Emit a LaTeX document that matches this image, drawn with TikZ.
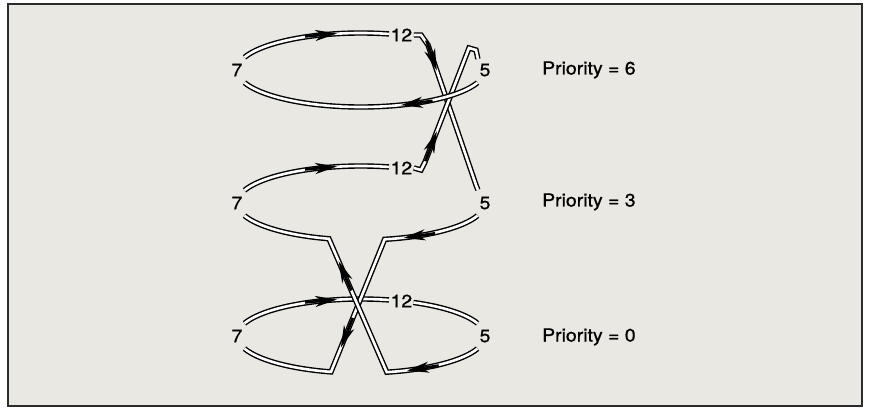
\documentclass[tikz,border=0pt]{standalone}
\usepackage{fontspec}
\setmainfont{TeX Gyre Heros}[FakeStretch=1.08,FakeBold=0.8]
\usetikzlibrary{decorations.markings}
\definecolor{paper}{HTML}{E9E8E3}
\definecolor{frameink}{HTML}{2B2B2B}

\tikzset{
  wire/.style={draw=black,double=white,double distance=2.6pt,line width=1.4pt,line join=miter},
  arrowat/.style={postaction={decorate,decoration={markings,mark=at position #1 with {%
    \fill[black] (12,0) -- (-10,5.6) -- (-5,1.4) -- (-20,1.4) -- (-20,-1.4) -- (-5,-1.4) -- (-10,-5.6) -- cycle;}}}},
  tag/.style={inner sep=1.5pt,font=\fontsize{18}{20}\selectfont},
  prio/.style={anchor=base west,inner sep=0pt,font=\fontsize{18}{20}\selectfont}
}

\begin{document}
\begin{tikzpicture}[x=1pt,y=1pt]
  \useasboundingbox (0,0) rectangle (870,410);
  \draw[frameink,line width=2pt,fill=paper] (8,4) rectangle (862,406);

  % ring centres
  \coordinate (tc) at (361,340);
  \coordinate (mc) at (361,207);
  \coordinate (bc) at (361,74);

  % task labels
  \node[tag] (t7)  at ([shift={(180:124 and 37)}]tc) {7};
  \node[tag] (t12) at ([shift={(71:124 and 37)}]tc) {12};
  \node[tag] (t5)  at ([shift={(0:124 and 37)}]tc) {5};
  \node[tag] (m7)  at ([shift={(180:124 and 37)}]mc) {7};
  \node[tag] (m12) at ([shift={(71:124 and 37)}]mc) {12};
  \node[tag] (m5)  at ([shift={(0:124 and 37)}]mc) {5};
  \node[tag] (b7)  at ([shift={(180:124 and 37)}]bc) {7};
  \node[tag] (b12) at ([shift={(71:124 and 37)}]bc) {12};
  \node[tag] (b5)  at ([shift={(0:124 and 37)}]bc) {5};

  \node[prio] (p6) at (542,335.5) {Priority = 6};
  \node[prio] (p3) at (542,203.5) {Priority = 3};
  \node[prio] (p0) at (542,68.5) {Priority = 0};

  % priority 0
  \draw[wire,arrowat=0.57] ([shift={(160:124 and 37)}]bc) arc[start angle=160,end angle=77,x radius=124,y radius=37];
  \draw[wire] ([shift={(65:124 and 37)}]bc) arc[start angle=65,end angle=20,x radius=124,y radius=37];

  % priority 3, links down to priority 0
  \draw[wire,arrowat=0.57] ([shift={(160:124 and 37)}]mc) arc[start angle=160,end angle=77,x radius=124,y radius=37];
  \draw[wire,arrowat=0.2,arrowat=0.61] ([shift={(-20:124 and 37)}]mc)
    arc[start angle=-20,end angle=-79,x radius=124,y radius=37]
    -- ([shift={(-104:124 and 37)}]bc)
    arc[start angle=-104,end angle=-160,x radius=124,y radius=37];
  \draw[wire,arrowat=0.19,arrowat=0.62] ([shift={(-20:124 and 37)}]bc)
    arc[start angle=-20,end angle=-78,x radius=124,y radius=37]
    -- ([shift={(-105:124 and 37)}]mc)
    arc[start angle=-105,end angle=-160,x radius=124,y radius=37];

  % priority 6, links to priority 3
  \draw[wire,arrowat=0.57] ([shift={(160:124 and 37)}]tc) arc[start angle=160,end angle=77,x radius=124,y radius=37];
  \draw[wire,arrowat=0.2] (t12.east) -- (421,375) -- (428,365) -- (476,225) -- ([yshift=5pt]m5.north west);
  \draw[wire,arrowat=0.24] (m12.east) -- (421,240) -- (425,248) -- (469,362) -- (476,360) -- ([yshift=3pt]t5.north west);
  \draw[wire,arrowat=0.285] ([shift={(-20:124 and 37)}]tc) arc[start angle=-20,end angle=-160,x radius=124,y radius=37];
\end{tikzpicture}
\end{document}
